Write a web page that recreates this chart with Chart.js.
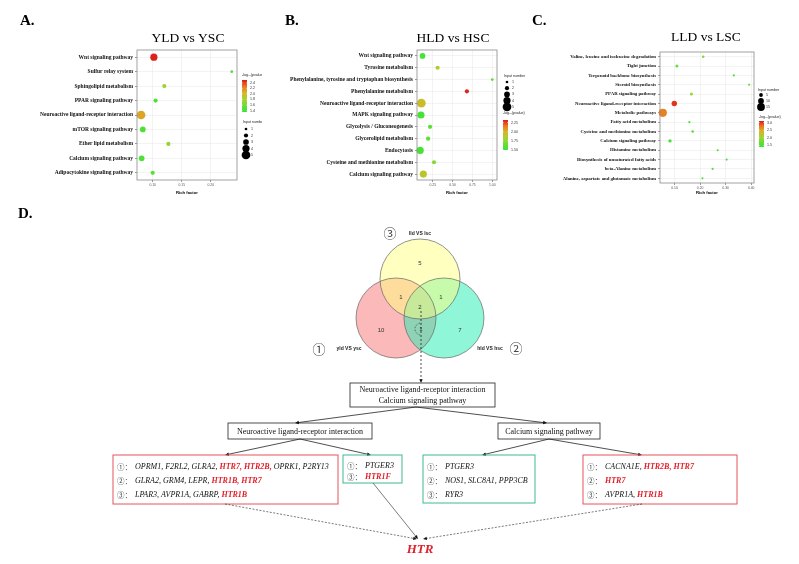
<!DOCTYPE html>
<html><head><meta charset="utf-8">
<script src="https://cdn.jsdelivr.net/npm/chart.js@4.4.1/dist/chart.umd.min.js"></script>
<style>
html,body{margin:0;padding:0;background:#fff;width:799px;height:564px;overflow:hidden;}
canvas{position:absolute;display:block;}
</style></head><body>
<canvas id="cA" width="262" height="200" style="left:0;top:0"></canvas>
<canvas id="cB" width="268" height="200" style="left:262px;top:0"></canvas>
<canvas id="cC" width="269" height="200" style="left:530px;top:0"></canvas>
<canvas id="cD" width="799" height="364" style="left:0;top:200px"></canvas>
<script>
// ---------------- DATA ----------------
const A_PATHWAYS = ['Wnt signaling pathway','Sulfur relay system','Sphingolipid metabolism','PPAR signaling pathway','Neuroactive ligand-receptor interaction','mTOR signaling pathway','Ether lipid metabolism','Calcium signaling pathway','Adipocytokine signaling pathway'];
const A_RICH  = [0.102, 0.236, 0.120, 0.105, 0.080, 0.083, 0.127, 0.081, 0.100];
const A_COUNT = [4, 1, 2, 2, 5, 3, 2, 3, 2];
const A_LOGP  = [2.48, 1.45, 1.80, 1.45, 2.10, 1.45, 1.72, 1.45, 1.50];
const A_XTICKS = [0.10, 0.15, 0.20];
const A_PTICKS = [2.4, 2.2, 2.0, 1.8, 1.6, 1.4];
const A_NTICKS = [1, 2, 3, 4, 5];

const B_PATHWAYS = ['Wnt signaling pathway','Tyrosine metabolism','Phenylalanine, tyrosine and tryptophan biosynthesis','Phenylalanine metabolism','Neuroactive ligand-receptor interaction','MAPK signaling pathway','Glycolysis / Gluconeogenesis','Glycerolipid metabolism','Endocytosis','Cysteine and methionine metabolism','Calcium signaling pathway'];
const B_RICH  = [0.12, 0.31, 1.00, 0.68, 0.105, 0.10, 0.215, 0.19, 0.09, 0.265, 0.13];
const B_COUNT = [3, 2, 1, 2, 5, 4, 2, 2, 4, 2, 4];
const B_LOGP  = [1.55, 1.85, 1.60, 2.30, 1.95, 1.55, 1.60, 1.60, 1.55, 1.75, 1.90];
const B_XTICKS = [0.25, 0.50, 0.75, 1.00];
const B_PTICKS = [2.25, 2.00, 1.75, 1.50];
const B_NTICKS = [1, 2, 3, 4, 5];

const C_PATHWAYS = ['Valine, leucine and isoleucine degradation','Tight junction','Terpenoid backbone biosynthesis','Steroid biosynthesis','PPAR signaling pathway','Neuroactive ligand-receptor interaction','Metabolic pathways','Fatty acid metabolism','Cysteine and methionine metabolism','Calcium signaling pathway','Histamine metabolism','Biosynthesis of unsaturated fatty acids','beta-Alanine metabolism','Alanine, aspartate and glutamate metabolism'];
const C_RICH  = [0.212, 0.109, 0.332, 0.392, 0.166, 0.099, 0.054, 0.158, 0.171, 0.082, 0.269, 0.304, 0.249, 0.209];
const C_COUNT = [2, 3, 1, 1, 3, 9, 16, 1, 2, 4, 1, 1, 1, 1];
const C_LOGP  = [1.90, 1.70, 1.60, 1.60, 2.00, 3.00, 2.70, 1.50, 1.60, 1.50, 1.60, 1.50, 1.60, 1.60];
const C_XTICKS = [0.1, 0.2, 0.3, 0.4];
const C_PTICKS = [3.0, 2.5, 2.0, 1.5];
const C_NTICKS = [5, 10, 15];

const VENN_SETS = ['yld VS ysc', 'hld VS hsc', 'lld VS lsc'];
// regions: yld only, hld only, lld only, yld&lld, hld&lld, yld&hld, all three
const VENN_COUNTS = [10, 7, 5, 1, 1, 1, 2];
const SHARED_PATHWAYS = ['Neuroactive ligand-receptor interaction', 'Calcium signaling pathway'];
const NEURO_MAIN = [['OPRM1','F2RL2','GLRA2','HTR7','HTR2B','OPRK1','P2RY13'], ['GLRA2','GRM4','LEPR','HTR1B','HTR7'], ['LPAR3','AVPR1A','GABRP','HTR1B']];
const NEURO_SIDE = [['PTGER3'], null, ['HTR1F']];
const CALC_SIDE  = [['PTGER3'], ['NOS1','SLC8A1','PPP3CB'], ['RYR3']];
const CALC_MAIN  = [['CACNA1E','HTR2B','HTR7'], ['HTR7'], ['AVPR1A','HTR1B']];
const TARGET = 'HTR';

// ---------------- STYLE ----------------
const SERIF = '"Liberation Serif", "Times New Roman", serif';
const SANS = '"Liberation Sans", Arial, "DejaVu Sans", sans-serif';
const CJK = '"Noto Sans CJK SC", "DejaVu Sans", sans-serif';
const RED = '#e21f2b';
const GRAD = [[0,[55,228,55]],[0.38,[160,212,50]],[0.6,[214,182,38]],[0.8,[238,118,32]],[1,[218,26,26]]];
function colorAt(t){
  t = Math.max(0, Math.min(1, t));
  for (let i = 1; i < GRAD.length; i++) {
    if (t <= GRAD[i][0]) {
      const [t0,c0] = GRAD[i-1], [t1,c1] = GRAD[i];
      const f = (t - t0) / (t1 - t0);
      return 'rgb(' + c0.map((c,k)=>Math.round(c + (c1[k]-c)*f)).join(',') + ')';
    }
  }
  return 'rgb(' + GRAD[GRAD.length-1][1].join(',') + ')';
}

function panelPlugin(cfg){
  return {
    id: 'panel' + cfg.letter,
    afterDraw(chart){
      const ctx = chart.ctx, a = chart.chartArea;
      ctx.save();
      ctx.strokeStyle = '#8a8a8a'; ctx.lineWidth = 0.8;
      ctx.strokeRect(a.left, a.top, a.right - a.left, a.bottom - a.top);
      ctx.fillStyle = '#000'; ctx.textAlign = 'left'; ctx.textBaseline = 'alphabetic';
      ctx.font = 'bold 15px ' + SERIF;
      ctx.fillText(cfg.letter + '.', cfg.letterX, 25);
      ctx.textAlign = 'center'; ctx.textBaseline = 'middle';
      ctx.font = '13.5px ' + SERIF;
      ctx.fillText(cfg.title, cfg.titleX, cfg.titleY);
      ctx.font = 'bold 4.2px ' + SANS;
      ctx.fillText('Rich factor', (a.left + a.right) / 2, 193);
      // colour legend
      const L = cfg.colorLegend;
      ctx.textAlign = 'left';
      ctx.font = '3.6px ' + SANS; ctx.fillStyle = '#222';
      ctx.fillText('-log\u2081\u2080(pvalue)', L.x, L.titleY);
      const g = ctx.createLinearGradient(0, L.barY, 0, L.barY + L.barH);
      GRAD.forEach(([t]) => g.addColorStop(1 - t, colorAt(t)));
      ctx.fillStyle = g;
      ctx.fillRect(L.x, L.barY, 5, L.barH);
      ctx.fillStyle = '#333';
      cfg.pticks.forEach(v => {
        const y = L.barY + (cfg.pmax - v) / (cfg.pmax - cfg.pmin) * L.barH;
        ctx.fillText(v.toFixed(cfg.pdec), L.x + 8, y);
        ctx.strokeStyle = '#fff'; ctx.lineWidth = 0.4;
        ctx.beginPath(); ctx.moveTo(L.x, y); ctx.lineTo(L.x + 1, y); ctx.moveTo(L.x + 4, y); ctx.lineTo(L.x + 5, y); ctx.stroke();
      });
      // size legend
      const S = cfg.sizeLegend;
      ctx.fillStyle = '#222';
      ctx.fillText('Input number', S.x, S.titleY);
      cfg.nticks.forEach((n, i) => {
        const y = S.y0 + i * S.dy;
        ctx.fillStyle = '#000';
        ctx.beginPath(); ctx.arc(S.x + 3, y, cfg.radius(n), 0, Math.PI * 2); ctx.fill();
        ctx.fillStyle = '#333';
        ctx.fillText(String(n), S.x + 8, y);
      });
      ctx.restore();
    }
  };
}

function makeBubble(id, cfg){
  const data = cfg.paths.map((p, i) => ({x: cfg.rich[i], y: p, r: cfg.radius(cfg.count[i]), v: cfg.logp[i]}));
  return new Chart(document.getElementById(id), {
    type: 'bubble',
    data: {datasets: [{
      data,
      backgroundColor: c => c.raw ? colorAt((c.raw.v - cfg.pmin) / (cfg.pmax - cfg.pmin)) : '#000',
      borderWidth: 0, hoverBorderWidth: 0, clip: false
    }]},
    options: {
      responsive: false, animation: false, events: [],
      layout: {padding: {left: 0, right: cfg.padRight, top: cfg.plotTop, bottom: 0}},
      plugins: {legend: {display: false}, tooltip: {enabled: false}},
      scales: {
        x: {
          type: 'linear', min: cfg.xmin, max: cfg.xmax,
          afterBuildTicks: s => { s.ticks = cfg.xticks.map(v => ({value: v})); },
          ticks: {font: {size: 3.4, family: SANS}, color: '#555', padding: 1.5, maxRotation: 0, autoSkip: false,
                  callback: v => Number(v).toFixed(cfg.xdec)},
          grid: {color: '#ebebeb', lineWidth: 0.6, tickLength: 2, tickColor: '#555', drawTicks: true},
          border: {display: false},
          afterFit: s => { s.height = cfg.plotBottomGap; }
        },
        y: {
          type: 'category', labels: cfg.paths, offset: true,
          ticks: {font: {size: cfg.labelSize, family: SERIF, weight: 'bold'}, color: '#111', padding: 2, autoSkip: false},
          grid: {color: '#ebebeb', lineWidth: 0.6, offset: false, tickLength: 2, tickColor: '#555'},
          border: {display: false},
          afterFit: s => { s.width = cfg.yAxisW; }
        }
      }
    },
    plugins: [panelPlugin(cfg)]
  });
}

const rAB = n => 0.6 + 0.75 * n;
const rC = n => 0.9 + 0.2 * n;

makeBubble('cA', {
  letter: 'A', letterX: 20, title: 'YLD vs YSC', titleX: 188, titleY: 38,
  paths: A_PATHWAYS, rich: A_RICH, count: A_COUNT, logp: A_LOGP,
  xticks: A_XTICKS, xdec: 2, xmin: 0.073, xmax: 0.245,
  pticks: A_PTICKS, pdec: 1, pmin: 1.35, pmax: 2.5, nticks: A_NTICKS, radius: rAB,
  yAxisW: 137, padRight: 25, plotTop: 50, plotBottomGap: 20, labelSize: 5.5,
  colorLegend: {x: 242, titleY: 75, barY: 80, barH: 32},
  sizeLegend: {x: 243, titleY: 122, y0: 129, dy: 6.5}
});
makeBubble('cB', {
  letter: 'B', letterX: 23, title: 'HLD vs HSC', titleX: 191, titleY: 38,
  paths: B_PATHWAYS, rich: B_RICH, count: B_COUNT, logp: B_LOGP,
  xticks: B_XTICKS, xdec: 2, xmin: 0.05, xmax: 1.06,
  pticks: B_PTICKS, pdec: 2, pmin: 1.5, pmax: 2.32, nticks: B_NTICKS, radius: rAB,
  yAxisW: 155, padRight: 33, plotTop: 50, plotBottomGap: 20, labelSize: 5.5,
  colorLegend: {x: 241, titleY: 113, barY: 120, barH: 30},
  sizeLegend: {x: 242, titleY: 76, y0: 82, dy: 6.2}
});
makeBubble('cC', {
  letter: 'C', letterX: 2, title: 'LLD vs LSC', titleX: 176, titleY: 37,
  paths: C_PATHWAYS, rich: C_RICH, count: C_COUNT, logp: C_LOGP,
  xticks: C_XTICKS, xdec: 2, xmin: 0.043, xmax: 0.411,
  pticks: C_PTICKS, pdec: 1, pmin: 1.4, pmax: 3.1, nticks: C_NTICKS, radius: rC,
  yAxisW: 130, padRight: 45, plotTop: 52, plotBottomGap: 17, labelSize: 4.8,
  colorLegend: {x: 229, titleY: 117, barY: 121, barH: 26},
  sizeLegend: {x: 228, titleY: 90, y0: 95, dy: 6}
});

// ---------------- PANEL D ----------------
const CIRCLED = ['\u2460', '\u2461', '\u2462'];
const D_LAYOUT = {
  venn: {r: 40, centers: [[396, 318], [444, 318], [420, 279]],
         fills: ['#f77373', '#22eeb2', '#ffff80'], drawOrder: [0, 1, 2],
         countPos: [[381, 330], [460, 330], [420, 263], [401, 297], [441, 297], [421, 329], [420, 307]],
         setLabelPos: [[349, 349], [490, 349], [420, 234]],
         setNumPos: [[319, 349], [516, 348], [390, 233]]},
  box1: [350, 383, 145, 24], box2: [228, 423, 144, 16], box3: [498, 423, 102, 16],
  geneBoxes: [
    {rect: [113, 455, 225, 49], color: '#e4555c', rows: [467, 481, 495], data: NEURO_MAIN},
    {rect: [343, 455, 59, 28], color: '#3fb892', rows: [466, 477], data: NEURO_SIDE},
    {rect: [423, 455, 112, 48], color: '#3fb892', rows: [467, 481, 495], data: CALC_SIDE},
    {rect: [583, 455, 154, 49], color: '#e4555c', rows: [467, 481, 495], data: CALC_MAIN}
  ],
  target: [420, 550]
};

function arrow(ctx, X, Y, x1, y1, x2, y2, dash, lw){
  const p1 = [X(x1), Y(y1)], p2 = [X(x2), Y(y2)];
  const a = Math.atan2(p2[1] - p1[1], p2[0] - p1[0]), h = 4.2;
  ctx.save();
  ctx.strokeStyle = '#222'; ctx.fillStyle = '#111'; ctx.lineWidth = lw || 0.8;
  if (dash) ctx.setLineDash(dash);
  ctx.beginPath(); ctx.moveTo(p1[0], p1[1]);
  ctx.lineTo(p2[0] - Math.cos(a) * h * 0.7, p2[1] - Math.sin(a) * h * 0.7); ctx.stroke();
  ctx.setLineDash([]);
  ctx.beginPath(); ctx.moveTo(p2[0], p2[1]);
  ctx.lineTo(p2[0] - h * Math.cos(a - 0.42), p2[1] - h * Math.sin(a - 0.42));
  ctx.lineTo(p2[0] - h * Math.cos(a + 0.42), p2[1] - h * Math.sin(a + 0.42));
  ctx.closePath(); ctx.fill();
  ctx.restore();
}

const dPlugin = {
  id: 'panelD',
  afterDraw(chart){
    const ctx = chart.ctx, sx = chart.scales.x, sy = chart.scales.y;
    const X = v => sx.getPixelForValue(v), Y = v => sy.getPixelForValue(v);
    const V = D_LAYOUT.venn;
    ctx.save();
    ctx.fillStyle = '#000'; ctx.textAlign = 'left'; ctx.textBaseline = 'alphabetic';
    ctx.font = 'bold 15px ' + SERIF;
    ctx.fillText('D.', X(18), Y(218));
    const R = Y(200 + V.r) - Y(200);
    // venn fills
    V.drawOrder.forEach(i => {
      ctx.globalAlpha = 0.5; ctx.fillStyle = V.fills[i];
      ctx.beginPath(); ctx.arc(X(V.centers[i][0]), Y(V.centers[i][1]), R, 0, Math.PI * 2); ctx.fill();
    });
    ctx.globalAlpha = 1;
    ctx.strokeStyle = '#666'; ctx.lineWidth = 0.7;
    V.centers.forEach(c => { ctx.beginPath(); ctx.arc(X(c[0]), Y(c[1]), R, 0, Math.PI * 2); ctx.stroke(); });
    ctx.textAlign = 'center'; ctx.textBaseline = 'middle'; ctx.fillStyle = '#333';
    ctx.font = '6px ' + SANS;
    VENN_COUNTS.forEach((n, i) => ctx.fillText(String(n), X(V.countPos[i][0]), Y(V.countPos[i][1])));
    ctx.font = 'bold 5px ' + SANS; ctx.fillStyle = '#222';
    VENN_SETS.forEach((s, i) => ctx.fillText(s, X(V.setLabelPos[i][0]), Y(V.setLabelPos[i][1])));
    ctx.font = '13px ' + CJK; ctx.fillStyle = '#444';
    CIRCLED.forEach((s, i) => ctx.fillText(s, X(V.setNumPos[i][0]), Y(V.setNumPos[i][1])));
    // dashed marker around shared region
    ctx.save(); ctx.setLineDash([1.5, 1.5]); ctx.strokeStyle = '#333'; ctx.lineWidth = 0.7;
    ctx.beginPath(); ctx.arc(X(421), Y(329), 6, Math.PI * 0.55, Math.PI * 1.55); ctx.stroke();
    ctx.restore();
    arrow(ctx, X, Y, 421, 311, 421, 383, [2, 2], 0.8);
    // flow boxes
    ctx.strokeStyle = '#222'; ctx.lineWidth = 0.8; ctx.fillStyle = '#111';
    ctx.font = '8px ' + SERIF;
    const b1 = D_LAYOUT.box1, b2 = D_LAYOUT.box2, b3 = D_LAYOUT.box3;
    [b1, b2, b3].forEach(b => ctx.strokeRect(X(b[0]), Y(b[1]), b[2], b[3]));
    ctx.fillText(SHARED_PATHWAYS[0], X(b1[0] + b1[2] / 2), Y(b1[1] + 7));
    ctx.fillText(SHARED_PATHWAYS[1], X(b1[0] + b1[2] / 2), Y(b1[1] + 18));
    ctx.fillText(SHARED_PATHWAYS[0], X(b2[0] + b2[2] / 2), Y(b2[1] + b2[3] / 2 + 0.5));
    ctx.fillText(SHARED_PATHWAYS[1], X(b3[0] + b3[2] / 2), Y(b3[1] + b3[3] / 2 + 0.5));
    arrow(ctx, X, Y, 416, 407, 295, 423);
    arrow(ctx, X, Y, 416, 407, 547, 423);
    arrow(ctx, X, Y, 300, 439, 225, 455);
    arrow(ctx, X, Y, 300, 439, 371, 455);
    arrow(ctx, X, Y, 549, 439, 482, 455);
    arrow(ctx, X, Y, 549, 439, 642, 455);
    // gene boxes
    D_LAYOUT.geneBoxes.forEach(gb => {
      const [bx, by, bw, bh] = gb.rect;
      ctx.strokeStyle = gb.color; ctx.lineWidth = 1;
      ctx.strokeRect(X(bx), Y(by), bw, bh);
      let row = 0;
      gb.data.forEach((genes, k) => {
        if (!genes) return;
        const y = Y(gb.rows[row++]);
        ctx.textAlign = 'left'; ctx.textBaseline = 'middle';
        ctx.font = '7.5px ' + CJK; ctx.fillStyle = '#444';
        ctx.fillText(CIRCLED[k] + '\uff1a', X(bx + 4), y);
        let cx = X(bx + 22);
        genes.forEach((g, j) => {
          const hot = g.startsWith(TARGET);
          ctx.font = (hot ? 'italic bold ' : 'italic ') + '8px ' + SERIF;
          ctx.fillStyle = hot ? RED : '#111';
          const t = g + (j < genes.length - 1 ? ', ' : '');
          ctx.fillText(t, cx, y);
          cx += ctx.measureText(t).width;
        });
      });
    });
    // converge to target
    arrow(ctx, X, Y, 225, 504, 417, 539, [2, 1.5], 0.6);
    arrow(ctx, X, Y, 373, 483, 418, 539, null, 0.6);
    arrow(ctx, X, Y, 642, 504, 423, 539, [2, 1.5], 0.6);
    ctx.textAlign = 'center'; ctx.textBaseline = 'middle';
    ctx.font = 'italic bold 13px ' + SERIF; ctx.fillStyle = RED;
    ctx.fillText(TARGET, X(D_LAYOUT.target[0]), Y(D_LAYOUT.target[1]));
    ctx.restore();
  }
};

new Chart(document.getElementById('cD'), {
  type: 'scatter',
  data: {datasets: [{data: []}]},
  options: {
    responsive: false, animation: false, events: [],
    layout: {padding: 0},
    plugins: {legend: {display: false}, tooltip: {enabled: false}},
    scales: {
      x: {type: 'linear', min: 0, max: 799, display: false},
      y: {type: 'linear', min: 200, max: 564, reverse: true, display: false}
    }
  },
  plugins: [dPlugin]
});
</script>
</body></html>
